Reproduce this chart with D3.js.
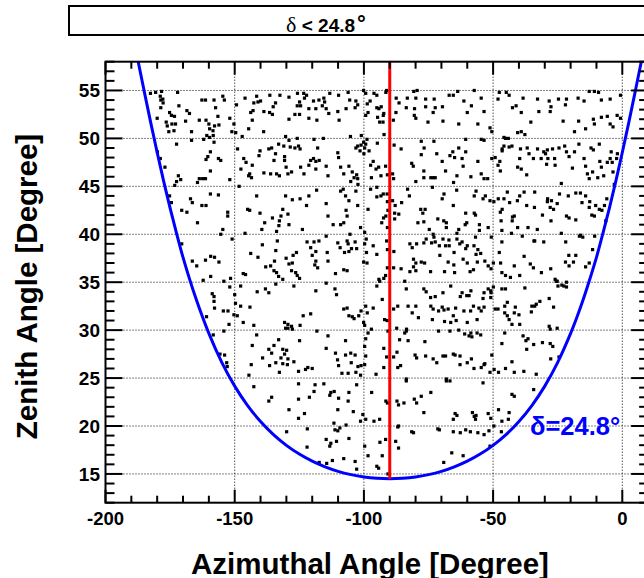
<!DOCTYPE html>
<html><head><meta charset="utf-8">
<script src="https://cdn.jsdelivr.net/npm/d3@7"></script>
<style>html,body{margin:0;padding:0;background:#fff;overflow:hidden}</style>
</head><body>
<script>
// ---------- data ----------
const xDomain = [-200, 10];
const yDomain = [12, 58];
const xMajorTicks = [-200, -150, -100, -50, 0];
const yMajorTicks = [15, 20, 25, 30, 35, 40, 45, 50, 55];
const titleParts = ["δ", " < 24.8", "°"];
const xTitle = "Azimuthal Angle [Degree]";
const yTitle = "Zenith Angle [Degree]";
const boundaryLabel = "δ=24.8°";
const cutAzimuth = -90;

// declination boundary curve (azimuth, zenith)
const boundaryAz = [-190,-187.5,-185,-182.5,-180,-177.5,-175,-172.5,-170,-165,-160,-155,-150,-145,-140,-135,-130,-125,-120,-115,-110,-105,-100,-95,-90,-85,-80,-75,-70,-65,-60,-55,-50,-45,-40,-35,-30,-25,-20,-17.5,-15,-12.5,-10,-7.5,-5,-2.5,0,2.5,5,7.5,10];
const boundaryZen = [61.59,58.2,54.89,51.64,48.53,45.54,42.73,40.10,37.59,33.29,29.66,26.64,24.16,22.13,20.47,19.10,17.98,17.07,16.33,15.74,15.27,14.93,14.69,14.55,14.50,14.55,14.69,14.93,15.27,15.74,16.33,17.07,17.98,19.10,20.47,22.13,24.16,26.64,29.66,31.39,33.29,35.38,37.59,40.10,42.73,45.54,48.53,51.64,54.89,58.2,61.59];

// events [azimuth, zenith]
const events = [
[-182.6,54.7],[-180.6,54.8],[-178.8,54.4],[-178.6,54.0],[-178.3,54.9],[-172.1,54.8],[-162.7,54.0],[-161.3,54.0],[-158.0,54.0],[-154.6,54.4],[-154.0,54.0],[-146.0,54.2],[-141.5,54.4],[-136.4,54.5],[-132.5,54.5],[-129.0,54.3],[-125.7,54.7],[-124.9,53.8],[-123.3,54.7],[-122.2,54.5],[-119.5,53.9],[-115.5,54.2],[-113.2,54.7],[-109.8,54.5],[-106.1,54.8],[-105.5,54.0],[-103.1,53.9],[-100.1,55.0],[-99.3,54.7],[-96.1,54.7],[-95.0,54.5],[-91.5,54.8],[-91.2,55.0],[-87.5,54.2],[-83.2,54.2],[-80.7,54.9],[-79.9,54.2],[-76.1,54.1],[-72.8,54.1],[-67.0,54.5],[-65.4,54.5],[-63.7,54.9],[-61.3,53.9],[-57.3,55.0],[-54.6,54.2],[-48.1,54.1],[-47.6,54.8],[-44.9,54.8],[-43.8,54.5],[-38.4,54.2],[-32.8,54.1],[-28.3,53.9],[-24.7,54.1],[-21.6,54.1],[-17.1,54.2],[-14.8,53.9],[-12.8,54.9],[-10.8,54.9],[-9.2,54.8],[-8.1,54.0],[-4.7,54.1],[-0.7,54.5],
[-178.6,53.2],[-175.2,52.7],[-174.5,52.4],[-168.5,52.9],[-167.5,52.6],[-163.7,51.9],[-161.1,51.9],[-160.0,51.5],[-151.9,52.1],[-151.1,50.7],[-149.6,50.6],[-144.6,51.0],[-143.8,52.7],[-142.9,52.9],[-138.8,50.7],[-136.5,52.7],[-135.4,52.5],[-129.0,52.0],[-126.7,52.5],[-124.9,52.5],[-121.3,53.1],[-121.3,52.1],[-118.6,53.1],[-118.2,51.9],[-115.2,53.8],[-114.6,53.1],[-113.6,52.6],[-110.1,52.8],[-109.6,51.9],[-106.9,53.1],[-103.4,53.2],[-102.4,53.5],[-99.3,52.4],[-98.4,52.7],[-95.0,53.2],[-94.7,52.2],[-93.9,51.7],[-92.6,51.7],[-87.6,52.7],[-83.6,53.2],[-80.5,52.4],[-79.9,52.1],[-76.1,53.3],[-73.2,52.7],[-72.4,53.2],[-69.4,51.8],[-63.3,51.5],[-60.0,52.7],[-58.4,53.4],[-55.9,51.5],[-53.5,52.8],[-51.2,51.1],[-50.5,50.7],[-45.8,50.1],[-42.5,53.2],[-41.1,53.4],[-39.1,52.7],[-35.4,51.7],[-32.3,52.8],[-27.9,52.8],[-27.6,53.3],[-22.9,51.8],[-22.0,53.5],[-18.5,50.7],[-16.9,51.8],[-14.2,51.0],[-11.2,52.0],[-10.8,51.5],[-8.1,52.2],[-5.8,52.3],[-4.7,51.5],[-3.6,51.2],[-2.0,52.4],[-0.7,52.1],[-40.5,50.6],[-39.1,50.7],[-37.7,50.4],[-60.6,49.9],[-54.6,49.9],[-44.1,50.0],[-176.5,51.7],[-174.3,51.5],[-176.1,51.3],[-173.5,50.8],[-166.7,50.7],[-159.7,51.0],[-158.4,50.8],[-162.0,49.9],[-159.7,50.1],[-160.8,50.3],
[-177.8,54.1],[-177.7,53.7],[-180.0,52.1],[-172.9,51.5],[-175.5,50.7],[-173.3,52.3],[-171.6,53.4],[-169.0,51.8],[-157.8,51.3],[-156.1,51.4],[-157.4,53.2],[-156.5,52.3],[-150.3,51.5],[-149.3,53.5],[-147.1,50.2],[-143.2,51.9],[-141.0,53.8],[-172.5,49.4],[-158.3,50.3],[-158.0,49.6],
[-142.6,53.7],[-140.0,53.9],[-138.7,52.8],[-135.1,53.3],[-134.2,53.7],[-125.8,53.4],[-124.5,53.4],[-123.0,54.2],[-117.4,54.0],[-116.1,53.4],[-98.7,53.6],[-97.6,53.9],[-94.2,53.1],[-93.3,53.3],[-92.3,52.6],[-92.5,52.4],[-88.6,51.9],[-86.4,53.7],[-79.4,55.0],[-80.4,53.1],[-75.2,51.7],[-69.6,53.3],
[-179.9,48.6],[-178.8,47.9],[-177.0,47.0],[-171.8,46.1],[-170.9,45.7],[-172.5,45.5],[-173.2,45.1],[-166.7,49.8],[-163.7,45.8],[-164.4,45.4],[-162.4,45.8],[-161.3,45.8],[-159.4,48.6],[-160.4,48.1],[-161.1,47.8],[-156.3,47.9],[-155.4,47.7],[-159.4,46.6],[-151.9,45.7],[-148.9,48.9],[-147.6,46.8],[-146.5,47.9],[-145.6,47.5],[-144.6,46.1],[-143.5,45.9],[-144.2,46.3],[-140.6,48.2],[-140.2,48.7],[-136.8,48.9],[-135.7,49.0],[-133.0,49.4],[-131.0,49.2],[-130.7,48.1],[-130.7,47.7],[-130.1,47.0],[-129.4,46.3],[-128.0,46.5],[-136.1,46.3],[-133.8,46.3],[-132.7,46.1],[-128.5,49.1],[-126.7,49.0],[-125.3,49.2],[-124.7,48.9],[-121.3,47.2],[-120.6,47.7],[-119.5,47.9],[-118.6,47.6],[-118.6,46.8],[-117.9,49.0],[-117.3,47.7],[-114.6,47.1],[-113.9,46.1],[-110.1,48.5],[-109.8,48.0],[-107.8,46.3],[-105.8,47.1],[-104.5,46.5],[-103.8,45.9],[-102.4,45.8],[-103.1,49.0],[-102.4,49.2],[-101.5,48.7],[-101.1,49.3],[-100.1,49.6],[-99.7,49.0],[-99.3,49.4],[-98.8,49.9],[-98.0,48.7],[-96.4,47.6],[-95.3,46.8],[-94.3,47.0],[-93.4,46.1],[-91.6,47.1],[-88.9,46.3],[-88.5,45.8],[-85.6,48.9],[-81.5,47.4],[-79.9,45.5],[-77.8,49.7],[-76.8,46.6],[-76.8,45.9],[-74.1,45.9],[-73.2,45.9],[-72.4,45.9],[-71.8,48.4],[-69.7,47.6],[-66.7,48.2],[-65.6,48.6],[-64.0,46.1],[-63.3,49.0],[-62.0,47.9],[-61.6,47.1],[-60.6,48.6],[-58.6,46.0],[-55.9,47.6],[-52.1,45.8],[-50.5,47.9],[-49.2,48.0],[-48.1,47.2],[-47.2,46.6],[-45.8,49.2],[-45.2,50.0],[-46.5,48.9],[-43.8,49.1],[-42.7,49.2],[-39.7,47.9],[-37.0,46.2],[-40.5,47.0],[-39.1,46.8],[-36.8,49.0],[-34.4,47.9],[-32.8,48.9],[-31.4,47.9],[-30.4,48.6],[-29.0,48.8],[-27.0,48.9],[-26.0,47.2],[-22.3,49.2],[-20.6,48.1],[-19.3,46.9],[-18.5,48.6],[-14.8,47.9],[-14.2,47.1],[-12.1,49.0],[-11.5,46.5],[-9.5,45.9],[-8.9,49.4],[-8.1,47.0],[-7.2,46.1],[-5.8,47.5],[-4.7,47.9],[-3.6,46.5],[-3.1,45.2],[-12.8,45.8],[-23.6,45.3],[-54.6,46.3],[-53.5,45.8],
[-130.3,50.2],[-129.0,49.8],[-125.8,50.0],[-119.3,49.9],[-115.7,50.0],[-105.2,50.2],[-101.0,50.3],[-100.0,48.4],[-94.8,49.5],[-92.2,50.4],[-88.3,49.3],[-76.7,49.0],[-77.8,48.3],[-72.9,49.7],[-143.2,47.2],[-138.7,46.4],[-134.2,48.4],[-134.8,47.7],[-124.5,47.0],[-123.2,46.3],[-109.0,47.0],[-105.1,45.5],[-102.8,46.2],[-102.3,45.2],[-97.4,47.2],[-90.9,46.2],[-80.9,47.1],
[-53.5,49.8],[-64.9,48.0],[-68.4,46.6],[-47.4,47.6],[-46.5,48.7],[-39.4,48.9],[-36.1,48.4],[-29.7,48.4],[-29.3,47.3],[-28.8,47.9],[-26.2,47.9],[-24.5,49.0],[-21.6,48.6],[-16.8,49.4],[-13.5,46.3],[-11.2,48.8],[-8.7,47.6],[-4.3,48.6],[-3.9,47.5],[-2.2,47.9],[-1.9,48.4],[-65.3,45.4],
[-175.2,44.0],[-174.5,43.3],[-170.5,42.5],[-168.5,42.3],[-167.1,43.7],[-166.4,43.3],[-164.4,41.2],[-162.7,43.0],[-161.1,43.0],[-159.4,44.2],[-156.3,44.1],[-155.4,40.0],[-154.6,40.5],[-152.7,42.3],[-152.7,41.9],[-151.0,39.5],[-148.3,45.0],[-146.0,40.1],[-145.0,42.6],[-144.2,42.5],[-141.5,44.0],[-140.2,42.2],[-139.5,40.5],[-138.4,41.2],[-135.4,41.7],[-133.8,40.3],[-132.7,41.4],[-132.1,41.9],[-131.4,42.6],[-129.4,42.1],[-129.0,41.0],[-124.7,43.7],[-122.2,43.0],[-121.3,44.0],[-114.6,43.2],[-113.9,41.9],[-111.9,41.0],[-107.8,41.2],[-106.9,42.5],[-106.5,41.9],[-105.8,43.5],[-103.1,44.5],[-102.4,43.0],[-99.7,40.2],[-98.4,42.6],[-95.0,43.9],[-95.0,44.9],[-93.4,44.0],[-93.1,41.2],[-92.4,41.7],[-91.5,41.9],[-91.0,44.2],[-88.9,43.5],[-87.9,43.0],[-86.5,42.1],[-85.4,43.3],[-83.1,44.7],[-82.4,44.0],[-78.0,42.6],[-77.2,42.2],[-76.3,42.6],[-79.1,41.2],[-76.8,41.3],[-74.7,40.5],[-71.4,41.6],[-69.1,41.4],[-68.1,40.7],[-65.4,43.0],[-64.0,40.1],[-60.6,42.2],[-60.2,41.2],[-57.3,44.0],[-57.3,42.2],[-56.6,44.5],[-55.3,41.0],[-53.9,43.7],[-53.0,44.0],[-51.2,43.5],[-48.0,43.7],[-47.2,42.3],[-46.9,41.4],[-46.6,40.4],[-45.8,43.7],[-44.5,44.4],[-43.6,43.3],[-42.5,41.8],[-41.8,41.9],[-40.5,40.7],[-39.7,44.0],[-38.0,44.4],[-37.0,43.0],[-34.0,42.8],[-32.9,40.5],[-30.9,42.0],[-28.9,43.7],[-27.9,42.8],[-27.4,43.5],[-25.2,43.2],[-24.3,44.2],[-21.6,41.9],[-20.9,44.0],[-20.6,41.7],[-18.0,44.3],[-16.2,44.3],[-15.6,43.3],[-14.2,44.0],[-12.8,42.8],[-11.8,42.0],[-10.8,41.9],[-8.9,42.6],[-7.9,42.5],[-6.9,43.0],[-6.0,43.7],[-27.6,41.4],[-23.6,40.1],[-16.2,39.9],[-51.9,40.7],[-55.3,40.4],[-63.3,40.5],[-68.1,41.2],[-60.8,41.0],
[-130.3,44.0],[-127.7,43.6],[-118.3,44.6],[-109.0,44.5],[-108.0,44.7],[-107.1,44.0],[-109.0,41.0],[-132.9,40.9],[-123.8,40.5],[-117.4,39.3],[-133.5,39.3],[-139.3,38.9],[-105.4,40.0],[-102.8,38.5],[-101.3,40.7],[-97.4,44.7],[-97.1,45.9],[-92.5,44.2],[-90.9,43.4],[-90.7,42.5],[-90.9,40.7],[-88.1,41.6],[-88.1,42.2],[-67.1,39.4],[-73.5,44.9],[-69.7,43.7],[-79.6,39.0],[-81.3,38.6],
[-69.0,44.2],[-64.1,44.6],[-49.7,43.4],[-46.5,42.6],[-40.6,43.5],[-42.6,41.4],[-36.5,40.7],[-33.9,44.4],[-29.0,43.4],[-26.6,42.6],[-18.0,41.5],[-12.6,43.4],[-10.3,43.0],[-6.4,41.4],[-10.7,39.8],[-21.9,39.2],[-33.9,39.3],[-38.7,39.8],[-42.9,40.1],[-50.7,39.7],[-56.8,39.7],[-57.4,38.8],[-60.6,38.5],[-56.8,42.0],
[-170.5,39.0],[-136.1,36.7],[-134.8,36.2],[-134.1,38.3],[-133.0,35.6],[-131.4,35.3],[-130.1,37.5],[-129.0,36.9],[-128.0,36.2],[-127.4,37.8],[-126.1,38.1],[-124.9,35.4],[-122.0,39.2],[-120.6,38.6],[-120.0,37.8],[-119.3,39.2],[-118.6,38.2],[-117.9,36.5],[-118.6,37.2],[-114.6,39.8],[-114.2,38.1],[-113.9,37.2],[-110.1,39.1],[-109.2,38.6],[-107.8,36.3],[-106.5,36.2],[-106.5,39.3],[-106.1,39.0],[-105.8,38.2],[-104.8,38.5],[-103.4,39.2],[-100.1,37.1],[-99.7,39.0],[-99.1,39.5],[-98.8,37.0],[-96.4,38.8],[-95.0,37.9],[-91.2,39.3],[-90.9,38.4],[-90.9,36.5],[-88.5,36.5],[-85.6,36.4],[-84.2,35.1],[-82.2,39.0],[-80.8,37.4],[-80.8,36.6],[-79.9,37.0],[-79.9,36.2],[-77.8,37.1],[-76.8,39.1],[-75.9,39.5],[-73.8,39.1],[-73.2,40.0],[-72.9,39.7],[-72.4,39.2],[-70.8,38.8],[-69.4,39.5],[-68.4,38.8],[-67.4,37.1],[-67.0,38.8],[-65.1,38.1],[-64.0,39.5],[-62.9,39.0],[-62.0,39.2],[-61.6,37.4],[-60.0,38.8],[-58.9,36.1],[-57.6,36.3],[-56.6,37.9],[-55.9,38.4],[-53.2,37.2],[-51.9,36.7],[-50.8,36.4],[-47.6,38.1],[-46.6,36.0],[-45.2,35.7],[-46.6,39.2],[-41.8,36.7],[-39.7,35.7],[-38.0,37.7],[-35.6,36.9],[-34.2,39.3],[-30.4,39.2],[-27.7,36.4],[-22.0,37.1],[-20.7,37.8],[-18.9,37.1],[-18.0,37.8],[-16.6,39.8],[-15.3,39.7],[-11.5,38.4],[-12.8,37.0],[-26.0,35.3],[-25.6,35.1],[-22.6,34.6],[-21.6,35.0],
[-138.0,36.6],[-134.6,37.2],[-133.8,36.0],[-127.7,37.0],[-126.4,36.0],[-125.8,35.7],[-119.0,36.8],[-111.0,35.9],[-107.5,38.1],[-99.0,38.1],[-94.2,35.3],[-92.3,35.4],[-88.4,38.2],[-82.2,36.1],[-76.5,37.0],[-74.2,36.1],[-70.6,37.8],[-68.8,36.1],
[-65.2,36.8],[-60.0,37.0],[-54.8,38.0],[-49.9,37.0],[-47.1,37.0],[-43.3,35.5],[-34.4,36.5],[-31.3,36.0],[-24.9,34.6],[-20.6,36.7],[-14.2,36.6],[-64.9,36.0],[-56.1,37.1],
[-138.1,34.3],[-136.8,33.9],[-134.1,34.8],[-129.4,30.2],[-128.0,30.4],[-124.7,30.5],[-120.6,31.7],[-118.6,34.1],[-114.6,34.9],[-111.2,34.3],[-107.8,32.2],[-106.5,32.3],[-105.8,31.5],[-104.5,31.4],[-103.8,31.2],[-102.0,31.5],[-101.1,32.0],[-100.1,30.8],[-99.7,30.5],[-99.3,32.5],[-96.4,32.3],[-95.0,34.6],[-93.9,35.1],[-92.9,33.2],[-91.6,35.7],[-92.0,31.1],[-88.5,32.2],[-86.9,32.5],[-83.6,34.3],[-82.9,32.5],[-79.9,32.5],[-78.9,31.3],[-76.8,34.3],[-75.9,34.0],[-74.1,32.5],[-73.2,32.2],[-72.4,33.5],[-71.1,32.0],[-69.4,33.9],[-68.8,30.9],[-67.4,32.2],[-66.4,34.6],[-65.4,31.5],[-64.3,31.0],[-62.7,33.5],[-62.0,33.9],[-61.3,32.0],[-60.2,33.6],[-59.3,33.6],[-58.6,34.1],[-57.6,32.5],[-56.2,31.1],[-54.6,32.0],[-53.9,33.3],[-53.5,32.4],[-51.9,34.3],[-50.8,33.9],[-49.2,32.2],[-48.1,32.2],[-46.6,34.3],[-45.5,32.5],[-44.5,31.5],[-43.8,31.1],[-42.7,30.6],[-41.8,31.8],[-41.4,32.4],[-39.7,30.6],[-37.7,34.4],[-35.0,32.5],[-33.3,32.7],[-31.9,33.0],[-27.9,30.1],[-26.6,32.4],[-25.2,35.1],[-23.4,34.7],[-21.6,34.5],[-28.3,30.4],[-25.2,30.2],
[-127.1,34.6],[-110.6,33.7],[-98.7,31.8],[-97.1,30.1],[-91.0,31.0],[-90.7,29.9],[-87.3,30.2],[-83.5,30.1],[-81.3,31.8],[-74.2,33.4],[-73.5,31.1],[-69.0,32.1],[-66.7,29.9],[-123.5,31.5],[-130.7,30.8],[-129.4,30.6],[-127.7,30.1],
[-53.5,33.9],[-50.9,33.4],[-49.9,34.5],[-45.5,31.8],[-44.5,32.9],[-40.0,31.6],[-35.2,31.9],[-33.9,32.5],[-28.3,33.3],[-69.7,32.4],[-64.5,32.3],[-58.7,32.0],[-55.5,32.3],[-66.4,30.8],[-60.0,30.8],[-50.9,34.1],[-45.2,34.3],
[-139.2,27.1],[-136.8,28.0],[-136.5,26.3],[-135.7,27.6],[-134.8,28.4],[-134.1,26.6],[-133.0,29.0],[-132.7,25.6],[-132.1,27.1],[-131.4,28.0],[-131.4,26.5],[-130.7,27.5],[-130.3,30.2],[-129.4,27.0],[-125.3,25.7],[-124.9,28.9],[-122.6,25.9],[-120.0,26.0],[-118.2,29.9],[-114.6,28.1],[-113.9,29.4],[-111.0,27.6],[-110.2,26.9],[-109.8,26.3],[-108.5,25.5],[-107.1,27.4],[-106.1,25.5],[-105.1,27.6],[-103.4,27.4],[-103.1,25.6],[-101.1,26.3],[-99.7,28.3],[-99.3,29.1],[-98.4,29.7],[-95.3,25.4],[-92.3,28.1],[-91.2,27.2],[-88.5,27.2],[-87.2,27.7],[-86.9,26.1],[-86.2,29.0],[-85.8,26.3],[-84.2,29.7],[-83.6,29.9],[-83.6,24.9],[-82.9,28.9],[-80.2,27.4],[-76.4,28.8],[-73.2,27.0],[-71.8,26.6],[-71.1,29.9],[-69.4,27.3],[-68.4,27.3],[-68.1,24.9],[-66.7,24.7],[-65.4,27.5],[-64.7,27.4],[-63.3,30.0],[-61.0,29.6],[-60.0,26.6],[-59.3,29.4],[-58.6,29.7],[-56.2,29.7],[-54.6,26.1],[-53.5,26.4],[-53.2,26.5],[-51.2,25.6],[-50.5,27.4],[-46.6,28.6],[-45.5,29.7],[-42.7,26.7],[-41.8,25.6],[-38.4,29.4],[-38.1,25.7],[-37.3,28.9],[-34.3,28.5],[-33.3,25.4],[-30.9,28.7],[-27.9,28.6],[-47.9,25.6],[-26.9,28.3],
[-129.9,27.9],[-129.6,26.4],[-127.1,26.7],[-121.7,26.1],[-107.1,28.9],[-104.9,26.6],[-101.3,25.3],[-102.3,26.2],[-99.3,27.3],[-99.7,26.4],[-92.3,26.1],[-79.6,27.1],[-76.1,27.3],
[-58.2,29.3],[-54.8,29.5],[-36.5,29.1],[-37.0,28.0],[-27.7,27.0],[-24.5,27.2],[-62.8,27.3],[-58.4,27.0],[-57.4,26.0],[-62.8,26.4],[-49.6,25.9],[-45.2,26.0],
[-136.8,22.6],[-135.7,23.0],[-129.0,21.7],[-125.3,24.4],[-125.3,22.8],[-125.3,20.8],[-123.0,21.3],[-118.9,24.3],[-115.5,24.4],[-113.2,23.2],[-112.8,23.5],[-111.5,23.6],[-110.1,21.7],[-109.8,22.9],[-106.1,22.6],[-105.8,23.5],[-102.8,24.3],[-100.4,21.2],[-99.3,20.7],[-97.0,23.5],[-96.1,20.5],[-93.9,20.7],[-91.5,22.6],[-90.9,22.4],[-87.2,22.6],[-86.6,22.2],[-86.6,20.0],[-84.5,22.4],[-83.6,24.7],[-80.5,22.8],[-79.6,22.4],[-76.8,21.4],[-74.1,23.5],[-68.1,24.7],[-65.4,20.7],[-64.7,21.3],[-64.0,21.1],[-58.0,21.4],[-57.3,21.0],[-56.6,21.1],[-53.9,24.5],[-51.9,21.3],[-47.9,21.7],[-46.6,20.5],[-43.8,21.4],[-42.7,23.3],[-41.8,23.1],[-34.3,23.8],[-44.1,20.7],
[-121.1,23.0],[-119.3,23.6],[-104.1,21.5],[-77.8,23.1],[-129.9,19.4],[-111.6,20.3],[-109.3,19.8],[-101.3,20.5],[-93.8,18.3],[-87.7,18.4],[-110.6,18.4],
[-56.8,20.7],[-50.9,20.8],[-49.7,20.0],[-51.6,19.5],[-58.8,19.4],[-65.4,19.4],[-46.8,19.4],[-51.2,17.9],
[-122.0,17.8],[-121.9,19.7],[-117.3,16.2],[-114.6,18.6],[-113.2,17.9],[-112.8,18.2],[-111.2,19.6],[-110.1,19.5],[-107.8,16.6],[-106.9,20.1],[-105.8,18.7],[-103.4,16.3],[-102.8,15.5],[-99.7,17.9],[-98.4,16.9],[-95.0,15.8],[-94.3,15.6],[-91.6,18.6],[-86.9,19.9],[-86.6,17.7],[-81.5,19.4],[-80.8,19.3],[-71.4,19.7],[-70.8,19.6],[-69.1,16.2],[-66.0,17.2],[-62.7,19.3],[-61.6,16.9],[-60.6,19.6],[-55.9,19.3],[-53.5,19.1],
[-114.4,16.1],[-112.2,16.4],[-92.9,16.9],[-90.7,15.0],
[-166.4,37.2],[-155.7,27.5],[-153.9,27.4],[-153.1,26.6],[-152.9,26.2],[-144.5,25.3],[-142.6,24.1],[-143.6,26.4],[-143.2,28.4],[-158.3,29.5],[-160.9,31.4],[-154.2,29.9],[-152.2,30.6],[-150.3,31.6],[-149.0,31.5],[-154.4,32.0],[-152.6,32.0],[-157.8,32.3],[-158.0,33.0],[-158.0,33.5],[-158.7,33.8],[-150.0,33.7],[-149.7,32.8],[-147.7,32.5],[-144.1,32.4],[-146.7,30.8],[-142.6,30.5],[-141.5,29.5],[-151.6,35.4],[-151.9,34.5],[-147.7,34.6],[-146.7,35.9],[-145.8,35.8],[-141.3,34.0],[-154.2,35.1],[-162.2,35.2],[-159.3,35.6],[-161.3,37.3],[-159.3,37.7],[-157.8,37.6],[-156.1,37.1],[-164.7,36.7],[-143.8,38.0],[-141.0,37.6]
];

// ---------- layout ----------
const W = 644, H = 578;
const M = {left: 105.5, top: 61.7, bottom: 502.7};
const pxPerX = 2.584;
const plotRight = M.left + (xDomain[1] - xDomain[0]) * pxPerX;

const svg = d3.select("body").append("svg").attr("width", W).attr("height", H)
  .style("font-family", "'Liberation Sans', Arial, Helvetica, sans-serif");

const x = d3.scaleLinear().domain(xDomain).range([M.left, plotRight]);
const y = d3.scaleLinear().domain(yDomain).range([M.bottom, M.top]);

svg.append("defs").append("clipPath").attr("id", "plotclip")
  .append("rect").attr("x", M.left).attr("y", M.top)
  .attr("width", plotRight - M.left).attr("height", M.bottom - M.top);

// title box
svg.append("rect").attr("x", 69).attr("y", 6).attr("width", 640).attr("height", 29)
  .attr("fill", "#fff").attr("stroke", "#000").attr("stroke-width", 2);
const tt = svg.append("text").attr("x", 326).attr("y", 31.5).attr("text-anchor", "middle")
  .attr("font-size", 19).attr("font-weight", "bold");
tt.append("tspan").attr("font-family", "'Liberation Serif', 'DejaVu Serif', serif")
  .attr("font-weight", "normal").attr("font-size", 22).text(titleParts[0]);
tt.append("tspan").text(titleParts[1]);
tt.append("tspan").attr("font-size", 22).attr("dx", 2).attr("dy", -1).text(titleParts[2]);

// grid
const grid = svg.append("g").attr("stroke", "#000").attr("stroke-width", 1).attr("stroke-dasharray", "1,2");
xMajorTicks.filter(v => v > xDomain[0]).forEach(v => {
  grid.append("line").attr("x1", x(v)).attr("x2", x(v)).attr("y1", M.top).attr("y2", M.bottom);
});
yMajorTicks.forEach(v => {
  grid.append("line").attr("x1", M.left).attr("x2", plotRight).attr("y1", y(v)).attr("y2", y(v));
});

// events
svg.append("g").attr("clip-path", "url(#plotclip)").selectAll("rect").data(events).join("rect")
  .attr("x", d => x(d[0]) - 1.6).attr("y", d => y(d[1]) - 1.6)
  .attr("width", 3.2).attr("height", 3.2).attr("fill", "#000");

// boundary curve
const curvePts = boundaryAz.map((a, i) => [a, boundaryZen[i]]);
svg.append("path").attr("clip-path", "url(#plotclip)")
  .attr("d", d3.line().x(d => x(d[0])).y(d => y(d[1])).curve(d3.curveCatmullRom)(curvePts))
  .attr("fill", "none").attr("stroke", "#0000ff").attr("stroke-width", 3);

// red cut line
const minZen = d3.min(boundaryZen);
svg.append("line").attr("x1", x(cutAzimuth)).attr("x2", x(cutAzimuth))
  .attr("y1", y(minZen)).attr("y2", M.top)
  .attr("stroke", "#ff0000").attr("stroke-width", 3);

// frame
svg.append("rect").attr("x", M.left).attr("y", M.top)
  .attr("width", plotRight - M.left).attr("height", M.bottom - M.top)
  .attr("fill", "none").attr("stroke", "#000").attr("stroke-width", 2);

// ticks
const tk = svg.append("g").attr("stroke", "#000").attr("stroke-width", 2);
d3.range(xDomain[0], xDomain[1] + 0.01, 10).forEach(v => {
  const major = xMajorTicks.includes(v);
  const L = major ? 13 : 7;
  tk.append("line").attr("x1", x(v)).attr("x2", x(v)).attr("y1", M.bottom).attr("y2", M.bottom - L);
  tk.append("line").attr("x1", x(v)).attr("x2", x(v)).attr("y1", M.top).attr("y2", M.top + L);
});
d3.range(yDomain[0], yDomain[1] + 0.01, 1).forEach(v => {
  const major = yMajorTicks.includes(v);
  const L = major ? 17 : 9;
  tk.append("line").attr("x1", M.left).attr("x2", M.left + L).attr("y1", y(v)).attr("y2", y(v));
  tk.append("line").attr("x1", plotRight).attr("x2", plotRight - L).attr("y1", y(v)).attr("y2", y(v));
});

// tick labels
svg.append("g").selectAll("text").data(xMajorTicks).join("text")
  .attr("x", d => x(d)).attr("y", 524.5).attr("text-anchor", "middle")
  .attr("font-size", 18.5).attr("font-weight", "bold").text(d => d);
svg.append("g").selectAll("text").data(yMajorTicks).join("text")
  .attr("x", 100).attr("y", d => y(d) + 7).attr("text-anchor", "end")
  .attr("font-size", 19).attr("font-weight", "bold").text(d => d);

// axis titles
svg.append("text").attr("x", 370).attr("y", 574).attr("text-anchor", "middle")
  .attr("font-size", 29.5).attr("font-weight", "bold").text(xTitle);
svg.append("text").attr("transform", "translate(37,286.5) rotate(-90)").attr("text-anchor", "middle")
  .attr("font-size", 29.5).attr("font-weight", "bold").text(yTitle);

// boundary label
svg.append("text").attr("x", 530).attr("y", 435).attr("fill", "#0000ff")
  .attr("font-size", 25.5).attr("font-weight", "bold").text(boundaryLabel);
</script>
</body></html>
